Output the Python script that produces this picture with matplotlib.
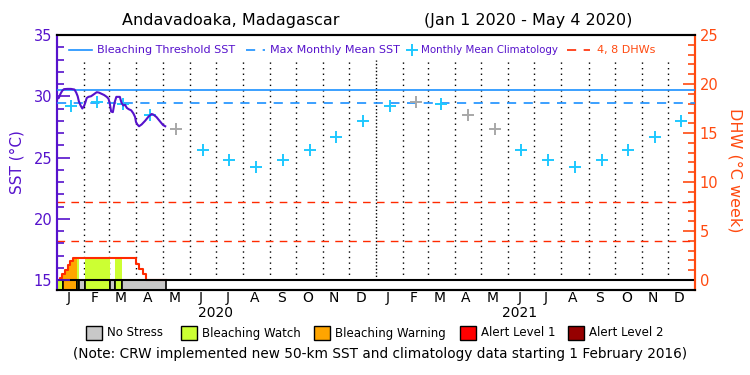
import matplotlib
matplotlib.use('Agg')
import matplotlib.pyplot as plt
import numpy as np
import pandas as pd
from matplotlib.patches import Rectangle
from matplotlib.lines import Line2D

# ---------------- data ----------------
month_letters = ['J', 'F', 'M', 'A', 'M', 'J', 'J', 'A', 'S', 'O', 'N', 'D']
year_labels = ['2020', '2021']
clim_vals = [29.2, 29.5, 29.35, 28.45, 27.35, 25.6, 24.8, 24.25, 24.8, 25.6, 26.7, 28.0]
clim_grey_2020 = [False, False, False, False, True, False, False, False, False, False, False, False]
clim_grey_2021 = [False, True, False, True, True, False, False, False, False, False, False, False]
mmm_sst = 29.47
threshold_sst = 30.47
dhw_lines = [4, 8]

# daily SST (day of record from Jan 1 2020, value in deg C)
sst_days = [0, 2, 4, 6, 8, 12, 16, 20, 22, 23.7, 25, 27, 29, 31, 32.5, 34, 36, 39, 42,
            45.5, 48, 51, 54, 57, 59, 60.5, 62, 64, 66, 68, 72, 74, 76, 78, 80, 82,
            85, 87.5, 89.5, 90.5, 92, 94, 97, 101, 105, 108.5, 110.5, 114, 118, 121.5, 124]
sst_vals = [29.8, 29.85, 30.2, 30.45, 30.58, 30.6, 30.6, 30.55, 30.3, 30.0, 29.6, 29.25,
            29.0, 29.2, 29.5, 29.85, 29.95, 30.0, 30.15, 30.33, 30.3, 30.2, 30.1, 29.95,
            29.8, 29.4, 28.75, 28.7, 29.5, 29.95, 29.95, 29.45, 29.25, 29.3, 29.05, 28.95,
            28.85, 28.6, 28.3, 27.9, 27.7, 27.55, 27.7, 28.0, 28.35, 28.55, 28.5, 28.3,
            27.95, 27.65, 27.55]

# DHW steps (day, value)
dhw_days = [0, 3.4, 6.1, 9.2, 12.2, 14.9, 18.0, 90.5, 94.3, 98.2, 101.6, 125]
dhw_vals = [0, 0.17, 0.58, 1.02, 1.53, 1.94, 2.22, 1.63, 1.12, 0.61, 0, 0]

# daily stress level segments
stress_start = [0, 7.2, 22.6, 25.2, 32.4, 60.7, 66.5, 74.1]
stress_end = [7.2, 22.6, 25.2, 32.4, 60.7, 66.5, 74.1, 125]
stress_level = ['watch', 'warning', 'watch', 'none', 'watch', 'none', 'watch', 'none']
fill_start = [3.4, 22.6, 32.4, 66.5]
fill_end = [22.6, 25.2, 60.7, 74.1]
fill_level = ['warning', 'watch', 'watch', 'watch']

legend_names = ['No Stress', 'Bleaching Watch', 'Bleaching Warning', 'Alert Level 1', 'Alert Level 2']
level_keys = ['none', 'watch', 'warning', 'alert1', 'alert2']

# ---------------- style ----------------
PURPLE = '#5612cc'
ORANGE = '#ff4a10'
BLUE = '#1a90ff'
CYAN = '#1ec8ff'
GREY_X = '#a8a8a8'
RED = '#ff2a00'
level_colors = {'none': '#c8c8c8', 'watch': '#ccff33', 'warning': '#ffa500',
                'alert1': '#ff0000', 'alert2': '#960000'}

W, H = 750, 375
plt.rcParams['font.family'] = ['DejaVu Sans']
fig = plt.figure(figsize=(7.5, 3.75), dpi=100)


def fx(x):
    return x / W


def fy(y):
    return 1 - y / H


# axes: x 57..695, y 35..290 (pixels)
ax = fig.add_axes([fx(57), fy(290), (695 - 57) / W, (290 - 35) / H])
ax2 = ax.twinx()

months = pd.date_range('2020-01-01', '2022-01-01', freq='MS')
t0 = pd.Timestamp('2020-01-01')
mstart = np.array([(m - t0).days for m in months])
total_days = mstart[-1]
mcenter = (mstart[:-1] + mstart[1:]) / 2.0

ax.set_xlim(0, total_days)
sst_lo = 15 - 10 / 12.25
ax.set_ylim(sst_lo, 35)
dhw_lo = -10 / 9.8
ax2.set_ylim(dhw_lo, 25)

# month boundary dotted lines
for d in mstart[1:-1]:
    ls = (0, (1, 1.5)) if d == 366 else (0, (1, 3))
    ax2.plot([d, d], [0, 22.4], color='black', lw=1.0, linestyle=ls, zorder=1)

# DHW reference lines
for v in dhw_lines:
    ax2.axhline(v, color=RED, lw=1.0, dashes=(5.5, 4.5), zorder=2)


def step_value(d):
    idx = np.searchsorted(dhw_days, d, side='right') - 1
    return dhw_vals[max(idx, 0)]


# DHW filled area under the step curve
for a, b, lev in zip(fill_start, fill_end, fill_level):
    xs = [a] + [d for d in dhw_days if a < d < b] + [b]
    ys = [step_value(x) for x in xs]
    ax2.fill_between(xs, 0, ys, step='post', color=level_colors[lev], lw=0, zorder=2)

# DHW step outline
ax2.step(dhw_days, dhw_vals, where='post', color=RED, lw=1.5, zorder=4)

# stress band
for a, b, lev in zip(stress_start, stress_end, stress_level):
    ax2.add_patch(Rectangle((a, dhw_lo), b - a, -dhw_lo, facecolor=level_colors[lev],
                            edgecolor='black', lw=1.2, zorder=3))
ax2.axhline(0, color='black', lw=1.5, zorder=5)

# SST thresholds
ax.axhline(threshold_sst, color=BLUE, lw=1.2, zorder=3)
ax.axhline(mmm_sst, color=BLUE, lw=1.2, dashes=(5.5, 4.5), zorder=3)

# climatology crosses
for yi, greys in enumerate([clim_grey_2020, clim_grey_2021]):
    for mi in range(12):
        c = GREY_X if greys[mi] else CYAN
        ax.plot(mcenter[yi * 12 + mi], clim_vals[mi], marker='+', ms=9, mew=1.4,
                color=c, zorder=4, linestyle='none')

# SST line
ax.plot(sst_days, sst_vals, color=PURPLE, lw=1.5, zorder=6)

ax.set_zorder(ax2.get_zorder() + 1)
ax.patch.set_visible(False)

# axes styling
ax.set_xticks([])
ax2.set_xticks([])
ax.set_yticks([15, 20, 25, 30, 35])
ax.set_yticks(np.arange(15, 36, 1), minor=True)
ax.tick_params(axis='y', which='both', direction='in', colors=PURPLE, labelsize=10.5,
               labelcolor=PURPLE, width=1.2)
ax.tick_params(axis='y', which='major', length=9)
ax.tick_params(axis='y', which='minor', length=5)
ax2.set_yticks([0, 5, 10, 15, 20, 25])
ax2.set_yticks(np.arange(0, 26, 1), minor=True)
ax2.tick_params(axis='y', which='both', direction='in', colors=ORANGE, labelsize=10.5,
                labelcolor=ORANGE, width=1.2)
ax2.tick_params(axis='y', which='major', length=9)
ax2.tick_params(axis='y', which='minor', length=5)

for a in (ax, ax2):
    a.spines['left'].set_color(PURPLE)
    a.spines['right'].set_color(ORANGE)
    a.spines['top'].set_color('black')
    a.spines['bottom'].set_color('black')
    for s in a.spines.values():
        s.set_linewidth(1.5)

fig.text(fx(17), fy(162), 'SST (°C)', rotation=90, color=PURPLE, fontsize=11,
         ha='center', va='center')
fig.text(fx(735), fy(170), 'DHW (°C week)', rotation=270, color=ORANGE, fontsize=11.5,
         ha='center', va='center')

# month / year labels
for i, c in enumerate(mcenter):
    x_pix = 57 + c / total_days * (695 - 57) - 2
    fig.text(fx(x_pix), fy(298), month_letters[i % 12], ha='center', va='center',
             fontsize=10, color='black')
fig.text(fx(216), fy(313), year_labels[0], ha='center', va='center', fontsize=10)
fig.text(fx(520), fy(313), year_labels[1], ha='center', va='center', fontsize=10)

# title
fig.text(fx(231), fy(20), 'Andavadoaka, Madagascar', ha='center', va='center',
         fontsize=11.5, color='black')
fig.text(fx(528), fy(20), '(Jan 1 2020 - May 4 2020)', ha='center', va='center',
         fontsize=11.5, color='black')

# top legend
ly = fy(50)
fig.add_artist(Line2D([fx(69), fx(92)], [ly, ly], color=BLUE, lw=1.2))
fig.text(fx(97), ly, 'Bleaching Threshold SST', color=PURPLE, fontsize=8, va='center')
fig.add_artist(Line2D([fx(246), fx(265)], [ly, ly], color=BLUE, lw=1.2, dashes=(5.5, 4.5)))
fig.text(fx(270), ly, 'Max Monthly Mean SST', color=PURPLE, fontsize=8, va='center')
fig.add_artist(Line2D([fx(412)], [ly], color=CYAN, marker='+', ms=8, mew=1.4))
fig.text(fx(421), ly, 'Monthly Mean Climatology', color=PURPLE, fontsize=7.4, va='center')
fig.add_artist(Line2D([fx(567), fx(590)], [ly, ly], color=RED, lw=1.2, dashes=(5.5, 4.5)))
fig.text(fx(597), ly, '4, 8 DHWs', color=ORANGE, fontsize=8, va='center')

# bottom legend
box_x = [86, 181, 314, 460, 568]
for bx, name, key in zip(box_x, legend_names, level_keys):
    fig.add_artist(Rectangle((fx(bx), fy(340)), 16 / W, 14 / H, facecolor=level_colors[key],
                             edgecolor='black', lw=1.0, transform=fig.transFigure))
    fig.text(fx(bx + 21), fy(333), name, fontsize=8.5, va='center', ha='left')

fig.text(fx(380), fy(354),
         '(Note: CRW implemented new 50-km SST and climatology data starting 1 February 2016)',
         ha='center', va='center', fontsize=9.8)

fig.savefig('out.png', dpi=100)
